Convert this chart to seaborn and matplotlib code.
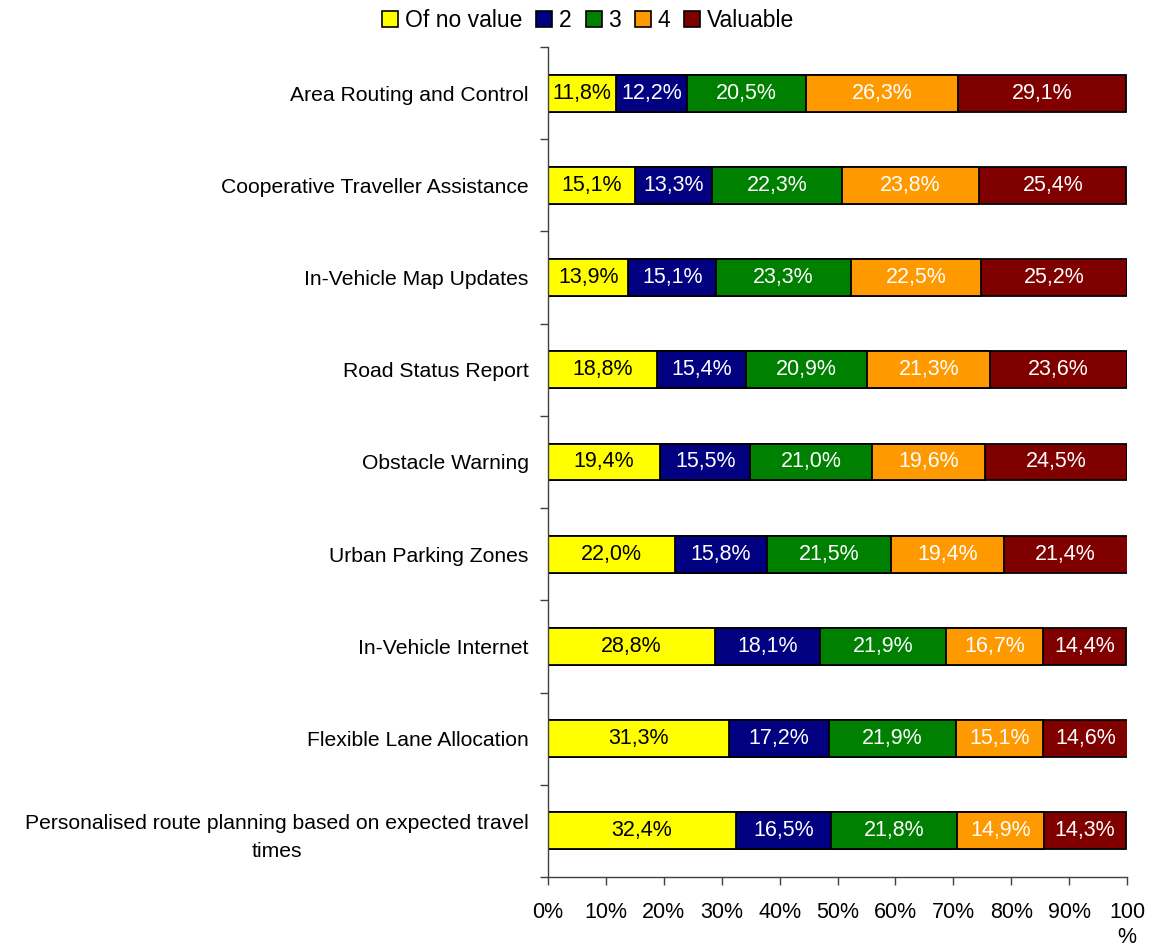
import matplotlib
matplotlib.use("Agg")
import matplotlib.pyplot as plt
import seaborn as sns
import pandas as pd
import numpy as np
from matplotlib.patches import Patch

categories = [
    "Area Routing and Control",
    "Cooperative Traveller Assistance",
    "In-Vehicle Map Updates",
    "Road Status Report",
    "Obstacle Warning",
    "Urban Parking Zones",
    "In-Vehicle Internet",
    "Flexible Lane Allocation",
    "Personalised route planning based on expected travel\ntimes",
]
series_names = ["Of no value", "2", "3", "4", "Valuable"]
of_no_value = [11.8, 15.1, 13.9, 18.8, 19.4, 22.0, 28.8, 31.3, 32.4]
v2 = [12.2, 13.3, 15.1, 15.4, 15.5, 15.8, 18.1, 17.2, 16.5]
v3 = [20.5, 22.3, 23.3, 20.9, 21.0, 21.5, 21.9, 21.9, 21.8]
v4 = [26.3, 23.8, 22.5, 21.3, 19.6, 19.4, 16.7, 15.1, 14.9]
valuable = [29.1, 25.4, 25.2, 23.6, 24.5, 21.4, 14.4, 14.6, 14.3]
colors = ["#FFFF00", "#000080", "#008000", "#FF9900", "#800000"]
text_colors = ["black", "white", "white", "white", "white"]
xtick_labels = ["0%", "10%", "20%", "30%", "40%", "50%", "60%", "70%", "80%", "90%", "100\n%"]

plt.rcParams['font.family'] = ['Liberation Sans', 'DejaVu Sans']

series = [of_no_value, v2, v3, v4, valuable]
vals = np.array(series)  # shape (5, 9)
cum = np.cumsum(vals, axis=0)

fig = plt.figure(figsize=(11.49, 9.46), dpi=100)
ax = fig.add_axes([548/1149, 1 - 877/946, (1127-548)/1149, (877-47)/946])

# draw cumulative bars from the last (longest) to the first
for i in range(len(series) - 1, -1, -1):
    df = pd.DataFrame({"cat": categories, "val": cum[i]})
    sns.barplot(data=df, x="val", y="cat", orient="h", color=colors[i],
                saturation=1, width=0.40, edgecolor="black", linewidth=1.3,
                ax=ax, order=categories)

# labels
for i in range(len(series)):
    for j in range(len(categories)):
        start = cum[i][j] - vals[i][j]
        center = start + vals[i][j] / 2
        ax.text(center, j, f"{vals[i][j]:.1f}%".replace(".", ","),
                ha="center", va="center", fontsize=15.5, color=text_colors[i])

ax.set_xlim(0, 100)
ax.set_ylim(len(categories) - 0.5, -0.5)
ax.set_xticks(np.arange(0, 101, 10))
ax.set_xticklabels(xtick_labels, fontsize=15.5, linespacing=1.25)
ax.set_yticks(range(len(categories)))
ax.set_yticklabels(categories, fontsize=15.2, linespacing=1.6)
for lbl in ax.get_yticklabels():
    lbl.set_multialignment("center")
ax.set_yticks(np.arange(-0.5, len(categories) + 0.5, 1), minor=True)
ax.tick_params(axis="y", which="major", length=0, pad=14)
ax.tick_params(axis="y", which="minor", length=6, width=1, color="#404040", direction="out")
ax.tick_params(axis="x", which="major", length=6, width=1, color="#404040", pad=12, direction="out")
ax.set_xlabel("")
ax.set_ylabel("")
for s in ["top", "right"]:
    ax.spines[s].set_visible(False)
for s in ["left", "bottom"]:
    ax.spines[s].set_color("#404040")
    ax.spines[s].set_linewidth(1)

handles = [Patch(facecolor=c, edgecolor="black", linewidth=1.2) for c in colors]
fig.legend(handles, series_names, loc="upper center", bbox_to_anchor=(0.512, 1.012),
           ncol=5, frameon=False, fontsize=16.5, handlelength=0.7, handleheight=0.7,
           handletextpad=0.3, columnspacing=0.6)

fig.savefig("out.png", dpi=100)
